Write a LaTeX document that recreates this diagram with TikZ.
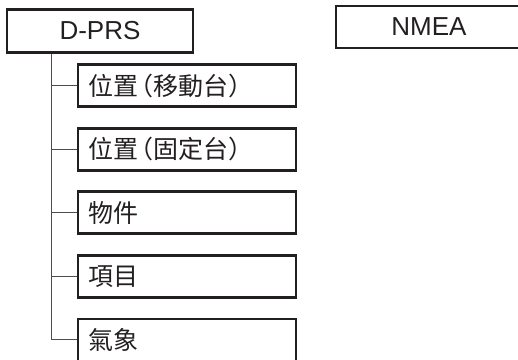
\documentclass[tikz,border=0pt]{standalone}
\usepackage{fontspec}
\setmainfont{Liberation Sans}
\newfontfamily\cjk{Noto Sans CJK TC}
\usepackage{tikz}

\definecolor{ink}{HTML}{231F20}
\newcommand{\lpar}{\hspace{-10pt}（}
\newcommand{\rpar}{）}

\begin{document}
\begin{tikzpicture}[x=1pt, y=-1pt,
        font=\fontsize{26pt}{30pt}\selectfont,
        top/.style = {draw=ink, line width=2.8pt, minimum width=186pt, minimum height=43pt, inner sep=0pt, text=ink},
        leaf/.style = {draw=ink, line width=2.8pt, text width=198pt, inner xsep=10pt, inner ysep=0pt, minimum height=42pt, align=left, text=ink, font=\cjk\fontsize{25pt}{29pt}\selectfont},
        link/.style = {draw=ink!80, line width=1pt}]
    \useasboundingbox (0,0) rectangle (518,359);

    \node[top] (D) at (100,31) {D-PRS};
    \node[top, minimum height=42pt] (N) [right of=D, node distance=329pt, yshift=4pt] {NMEA};

    \node[leaf] (L1) at (187,85.5) {位置\lpar 移動台\rpar};
    \node[leaf] (L2) [below of=L1, node distance=63.6pt] {位置\lpar 固定台\rpar};
    \node[leaf] (L3) [below of=L2, node distance=63.6pt] {物件};
    \node[leaf] (L4) [below of=L3, node distance=63.6pt] {項目};
    \node[leaf] (L5) [below of=L4, node distance=63.6pt] {氣象};

    \coordinate (T) at ([xshift=46pt]D.south west);
    \foreach \n in {L1,L2,L3,L4,L5}
        \path[link] (T) |- (\n.west);
\end{tikzpicture}
\end{document}
